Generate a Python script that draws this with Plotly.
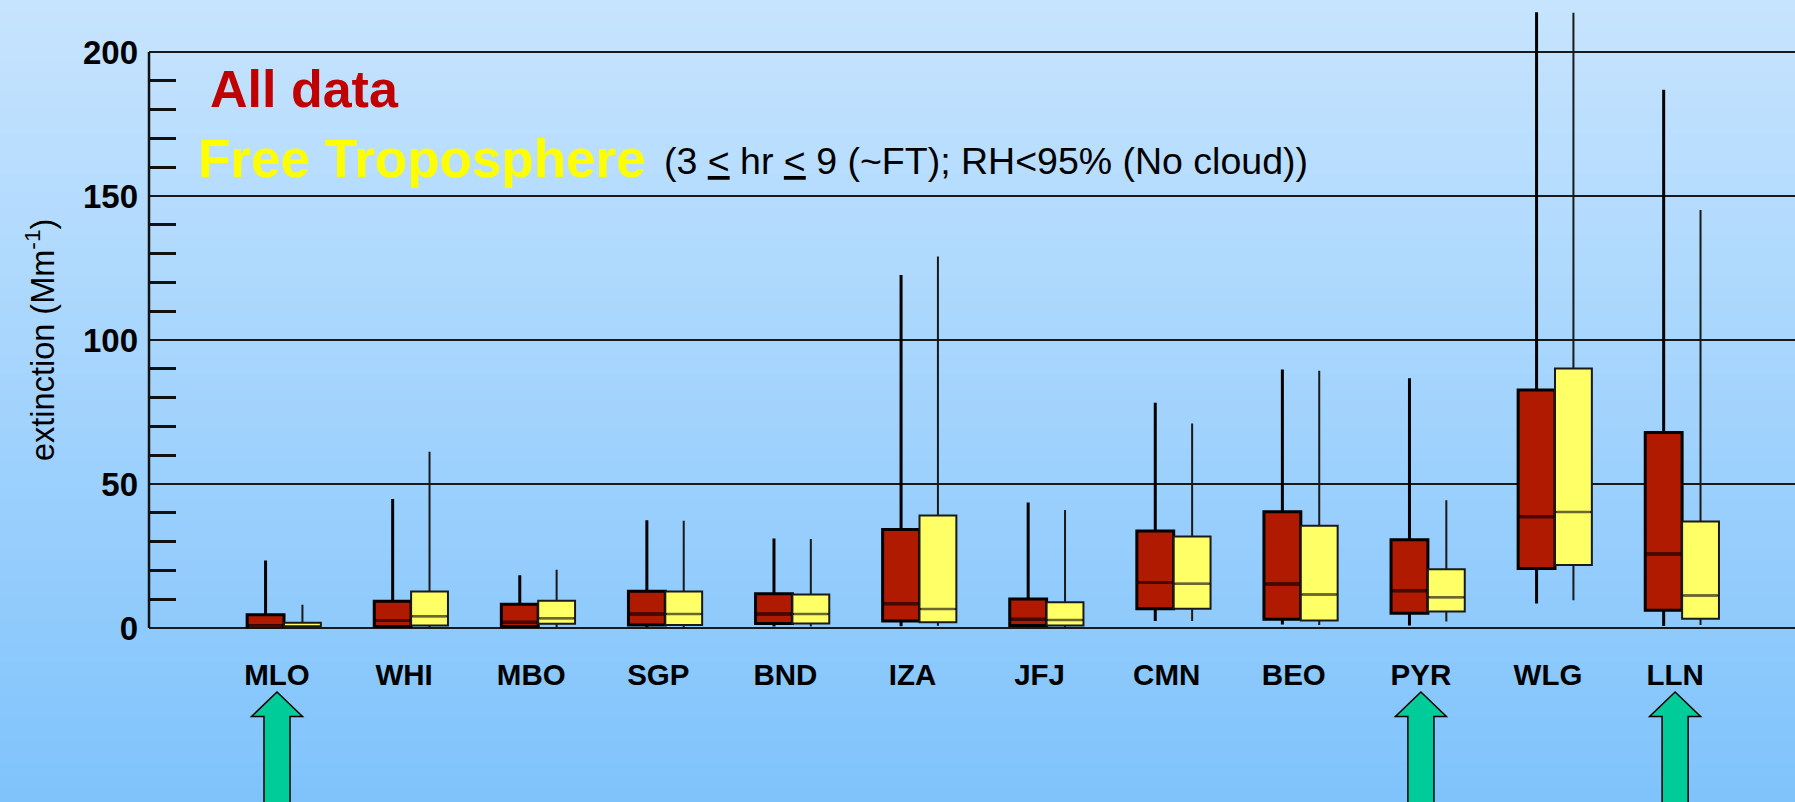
import plotly.graph_objects as go

# ---------------- data ----------------
categories = ["MLO", "WHI", "MBO", "SGP", "BND", "IZA", "JFJ", "CMN", "BEO", "PYR", "WLG", "LLN"]

all_lower  = [0.2, 0.3, 0.3, 0.3, 0.5, 0.6, 0.3, 2.4, 1.2, 0.9, 8.5, 0.7]
all_q1     = [0.4, 0.5, 0.5, 1.0, 1.55, 2.4, 0.9, 6.65, 3.05, 5.15, 20.7, 6.2]
all_median = [0.6, 2.6, 2.0, 4.9, 4.9, 8.4, 3.05, 15.8, 15.3, 12.9, 38.6, 25.7]
all_q3     = [4.6, 9.3, 8.25, 12.8, 11.85, 34.2, 10.1, 33.7, 40.4, 30.6, 82.6, 67.9]
all_upper  = [23.4, 44.8, 18.3, 37.4, 31.1, 122.6, 43.6, 78.2, 89.8, 86.7, 213.8, 186.9]

ft_lower  = [0.2, 0.3, 0.3, 0.3, 0.5, 0.8, 0.3, 2.4, 1.0, 2.25, 9.6, 1.0]
ft_q1     = [0.3, 0.9, 1.45, 1.0, 1.55, 2.0, 0.9, 6.65, 2.6, 5.7, 21.9, 3.2]
ft_median = [0.35, 4.1, 3.4, 4.9, 4.9, 6.6, 2.8, 15.4, 11.6, 10.7, 40.3, 11.3]
ft_q3     = [1.8, 12.65, 9.5, 12.65, 11.6, 39.1, 8.9, 31.8, 35.5, 20.4, 90.1, 37.0]
ft_upper  = [8.1, 61.2, 20.2, 37.2, 30.9, 129.0, 41.0, 71.0, 89.3, 44.4, 213.6, 145.1]

y_tick_vals = [0, 50, 100, 150, 200]
y_minor_vals = [v for v in range(10, 200, 10) if v % 50 != 0]
arrow_categories = ["MLO", "PYR", "LLN"]

# ---------------- layout geometry ----------------
W, H = 1795, 802
ML, MR, MT, MB = 149, 0, 5, 171
PLOT_W = W - ML - MR
PLOT_H = H - MT - MB
PX_PER_UNIT = 2.88
ZERO_PX = 628
Y0 = -((H - MB) - ZERO_PX) / PX_PER_UNIT
Y1 = Y0 + PLOT_H / PX_PER_UNIT

CAT_SPACING = 127.1
FIRST_CENTER = 284
X0 = (ML - FIRST_CENTER) / CAT_SPACING
X1 = (W - MR - FIRST_CENTER) / CAT_SPACING

BOX_W = 0.29
LABEL_SHIFT = 0.055

pos = list(range(len(categories)))
red_x = [p - BOX_W / 2 for p in pos]
yel_x = [p + BOX_W / 2 for p in pos]

RED = "#b01a00"
YEL = "#ffff66"
FONT = "Arial, Liberation Sans, sans-serif"

fig = go.Figure()

fig.add_trace(go.Box(
    x=red_x, q1=all_q1, median=all_median, q3=all_q3,
    lowerfence=all_lower, upperfence=all_upper,
    width=BOX_W, fillcolor=RED, line=dict(color="#000000", width=3),
    whiskerwidth=0, boxpoints=False, name="All data", showlegend=False,
))
fig.add_trace(go.Box(
    x=yel_x, q1=ft_q1, median=ft_median, q3=ft_q3,
    lowerfence=ft_lower, upperfence=ft_upper,
    width=BOX_W, fillcolor=YEL, line=dict(color="#1a1a1a", width=2),
    whiskerwidth=0, boxpoints=False, name="Free Troposphere", showlegend=False,
))


def median_segments(xs, meds, lows, highs, inset):
    sx, sy = [], []
    for x, m, lo, hi in zip(xs, meds, lows, highs):
        if hi - lo < 3:
            continue
        sx += [x - BOX_W / 2 + inset, x + BOX_W / 2 - inset, None]
        sy += [m, m, None]
    return sx, sy


mx, my = median_segments(red_x, all_median, all_q1, all_q3, 0.014)
fig.add_trace(go.Scatter(x=mx, y=my, mode="lines", line=dict(color="#4a0800", width=3),
                         hoverinfo="skip", showlegend=False))
mx, my = median_segments(yel_x, ft_median, ft_q1, ft_q3, 0.012)
fig.add_trace(go.Scatter(x=mx, y=my, mode="lines", line=dict(color="#6a6830", width=2.5),
                         hoverinfo="skip", showlegend=False))

# ---------------- background gradient ----------------
shapes = []
N = 120
top_rgb = (199, 228, 254)
bot_rgb = (127, 195, 252)
for k in range(N):
    t = (k + 0.5) / N
    c = tuple(round(a + (b - a) * t) for a, b in zip(top_rgb, bot_rgb))
    py0 = k * H / N
    py1 = (k + 1) * H / N + 1
    shapes.append(dict(
        type="rect", xref="paper", yref="paper", layer="below",
        x0=-0.2, x1=1.2,
        y0=(H - MB - py1) / PLOT_H, y1=(H - MB - py0) / PLOT_H,
        fillcolor="rgb(%d,%d,%d)" % c, line=dict(width=0),
    ))

# left frame line
shapes.append(dict(type="line", xref="paper", yref="y", x0=0, x1=0, y0=0, y1=200,
                   line=dict(color="#111111", width=2.5)))

# arrows
for cat in arrow_categories:
    i = categories.index(cat)
    xa = (i - LABEL_SHIFT - X0) / (X1 - X0)
    path = ("M 0,-61 L 25.5,-85.5 L 13,-85.5 L 13,-200 L -13,-200 "
            "L -13,-85.5 L -25.5,-85.5 Z")
    shapes.append(dict(
        type="path", xref="paper", yref="paper",
        xsizemode="pixel", ysizemode="pixel", xanchor=xa, yanchor=0,
        path=path, fillcolor="#00cc99", line=dict(color="#000000", width=1.5),
        layer="above",
    ))

# ---------------- annotations ----------------
def px_to_paper_x(px):
    return (px - ML) / PLOT_W


def px_to_y(py):
    return (ZERO_PX - py) / PX_PER_UNIT


annotations = [
    dict(text="<b>All data</b>", xref="paper", yref="y",
         x=px_to_paper_x(208), y=px_to_y(89), xanchor="left", yanchor="middle",
         showarrow=False, font=dict(family=FONT, size=52, color="#c00000")),
    dict(text="<b>Free Troposphere</b>", xref="paper", yref="y",
         x=px_to_paper_x(196), y=px_to_y(158), xanchor="left", yanchor="middle",
         showarrow=False, font=dict(family=FONT, size=53, color="#ffff00")),
    dict(text="(3 <u>&lt;</u> hr <u>&lt;</u> 9 (~FT); RH&lt;95% (No cloud))", xref="paper", yref="y",
         x=px_to_paper_x(662), y=px_to_y(160.5), xanchor="left", yanchor="middle",
         showarrow=False, font=dict(family=FONT, size=37.5, color="#000000")),
    dict(text="extinction (Mm<sup>-1</sup>)", xref="paper", yref="y",
         x=px_to_paper_x(40), y=100, xanchor="center", yanchor="middle", textangle=-90,
         showarrow=False, font=dict(family=FONT, size=32.5, color="#000000")),
]

fig.update_layout(
    width=W, height=H,
    margin=dict(l=ML, r=MR, t=MT, b=MB, pad=0),
    paper_bgcolor="rgb(163,211,253)",
    plot_bgcolor="rgba(0,0,0,0)",
    boxmode="overlay",
    showlegend=False,
    shapes=shapes,
    annotations=annotations,
    xaxis=dict(
        range=[X0, X1], tickmode="array",
        tickvals=[p - LABEL_SHIFT for p in pos], ticktext=categories,
        showgrid=False, zeroline=False, showline=False, ticks="",
        tickfont=dict(family=FONT, size=29.5, color="#000000", weight="bold"),
        ticklabelstandoff=23,
    ),
    yaxis=dict(
        range=[Y0, Y1], tickmode="array", tickvals=y_tick_vals,
        ticktext=[str(v) for v in y_tick_vals],
        showgrid=True, gridcolor="#1a1a1a", gridwidth=2,
        zeroline=False, showline=False, ticks="", mirror="allticks",
        minor=dict(tickmode="array", tickvals=y_minor_vals, ticks="inside",
                   ticklen=27, tickwidth=2.5, tickcolor="#111111", showgrid=False),
        tickfont=dict(family=FONT, size=33, color="#000000", weight="bold"),
        ticklabelstandoff=10,
    ),
)

fig.write_html("out.html")
